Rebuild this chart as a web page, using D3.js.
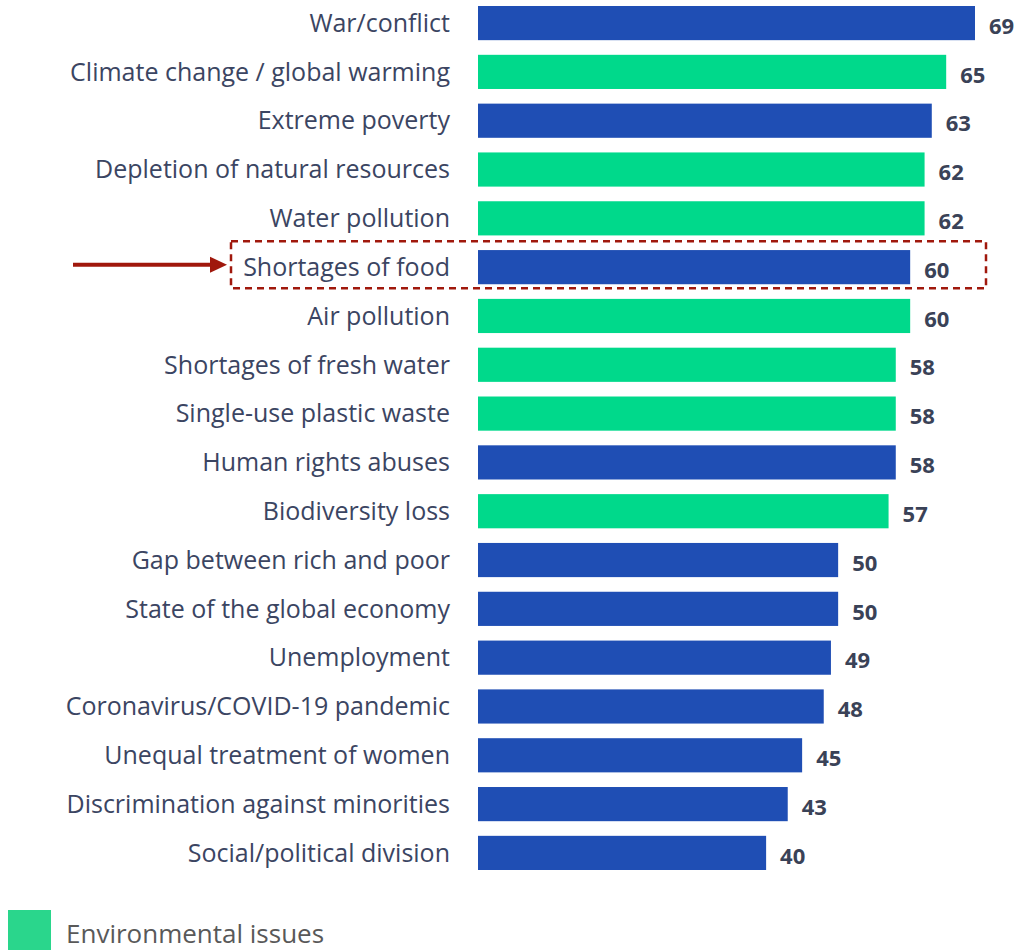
<!DOCTYPE html>
<html>
<head>
<meta charset="utf-8">
<title>Issues</title>
<style>
  body { margin: 0; background: #fff; font-family: 'Open Sans', sans-serif; }
  svg { display: block; }
</style>
<script src="https://d3js.org/d3.v7.min.js"></script>
</head>
<body>
<div id="container"></div>
<script>
// ******* Data *******
const categories = [
  "War/conflict", "Climate change / global warming", "Extreme poverty",
  "Depletion of natural resources", "Water pollution", "Shortages of food",
  "Air pollution", "Shortages of fresh water", "Single-use plastic waste",
  "Human rights abuses", "Biodiversity loss", "Gap between rich and poor",
  "State of the global economy", "Unemployment", "Coronavirus/COVID-19 pandemic",
  "Unequal treatment of women", "Discrimination against minorities",
  "Social/political division"
];
const values = [69, 65, 63, 62, 62, 60, 60, 58, 58, 58, 57, 50, 50, 49, 48, 45, 43, 40];
const environmental = [false, true, false, true, true, false, true, true, true,
                       false, true, false, false, false, false, false, false, false];
const highlighted = "Shortages of food";
const legendLabel = "Environmental issues";

// ******* Constants *******
const width = 1019, height = 950;
const blue = "#1f4eb4", green = "#00d98b", red = "#a0180c";

const rows = categories.map((c, i) => ({cat: c, val: values[i], env: environmental[i]}));

const svg = d3.select("#container").append("svg")
    .attr("width", width)
    .attr("height", height);

// ******* Scales *******
const x = d3.scaleLinear().domain([0, 69]).range([478, 975]);
const y = d3.scaleBand().domain(categories).range([6, 870]).paddingInner(0.3).paddingOuter(0);

// ******* Bars *******
svg.selectAll("rect.bar")
  .data(rows)
  .enter().append("rect")
    .attr("class", "bar")
    .attr("x", x(0))
    .attr("y", d => y(d.cat))
    .attr("width", d => x(d.val) - x(0))
    .attr("height", y.bandwidth())
    .attr("fill", d => d.env ? green : blue);

// category labels
svg.selectAll("text.cat")
  .data(rows)
  .enter().append("text")
    .attr("class", "cat")
    .attr("x", 450)
    .attr("y", d => y(d.cat) + y.bandwidth() / 2)
    .attr("dy", "0.35em")
    .attr("text-anchor", "end")
    .attr("font-size", 25)
    .attr("fill", "#3b4562")
    .text(d => d.cat);

// value labels
svg.selectAll("text.val")
  .data(rows)
  .enter().append("text")
    .attr("class", "val")
    .attr("x", d => x(d.val) + 14)
    .attr("y", d => y(d.cat) + y.bandwidth() / 2 + 3)
    .attr("dy", "0.35em")
    .attr("font-size", 22)
    .attr("font-weight", "bold")
    .attr("fill", "#3a4257")
    .text(d => d.val);

// ******* Highlight box + arrow *******
const hy = y(highlighted) + y.bandwidth() / 2;
svg.append("rect")
    .attr("x", 231)
    .attr("y", hy - 26)
    .attr("width", 755)
    .attr("height", 47)
    .attr("fill", "none")
    .attr("stroke", red)
    .attr("stroke-width", 2.5)
    .attr("stroke-dasharray", "7,5");

svg.append("line")
    .attr("x1", 73)
    .attr("x2", 212)
    .attr("y1", hy - 2.5)
    .attr("y2", hy - 2.5)
    .attr("stroke", red)
    .attr("stroke-width", 4);

svg.append("path")
    .attr("d", `M210,${hy - 10.5} L227,${hy - 2.5} L210,${hy + 5.5} Z`)
    .attr("fill", red);

// ******* Legend *******
svg.append("rect")
    .attr("x", 8)
    .attr("y", 910)
    .attr("width", 43)
    .attr("height", 43)
    .attr("fill", "#2ad68c");

svg.append("text")
    .attr("x", 66)
    .attr("y", 943)
    .attr("font-size", 26)
    .attr("fill", "#595959")
    .text(legendLabel);
</script>
</body>
</html>
